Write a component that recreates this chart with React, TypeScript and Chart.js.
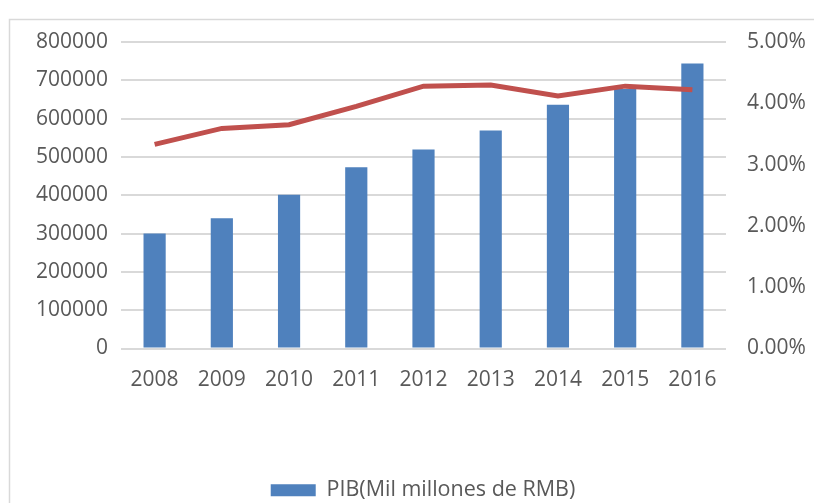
import React, { useEffect, useRef } from "react";
import { Chart, registerables } from "chart.js";

Chart.register(...registerables);

const years = ["2008", "2009", "2010", "2011", "2012", "2013", "2014", "2015", "2016"];
const pib = [300000, 340000, 401000, 473000, 519500, 569000, 636000, 677000, 744000];
const growth = [0.0333, 0.0359, 0.0365, 0.0395, 0.0428, 0.043, 0.0412, 0.0428, 0.0422];
const pibLabel = "PIB(Mil millones de RMB)";
const growthLabel = "Crecimiento";

const TEXT = "#595959";
const GRID = "#d9d9d9";
const FONT = "'Open Sans', 'Noto Sans', sans-serif";

const borderPlugin = {
  id: "frameBorder",
  beforeDraw(chart: any) {
    const ctx = chart.ctx;
    ctx.save();
    ctx.fillStyle = "#ffffff";
    ctx.fillRect(0, 0, chart.width, chart.height);
    ctx.strokeStyle = GRID;
    ctx.lineWidth = 1.5;
    ctx.strokeRect(9.5, 19.5, chart.width + 20, chart.height + 20);
    ctx.restore();
  },
  afterLayout(chart: any) {
    if (chart.legend) {
      chart.legend.left += 16;
      chart.legend.right += 16;
    }
  },
};

export default function App() {
  const ref = useRef<HTMLCanvasElement | null>(null);
  useEffect(() => {
    if (!ref.current) return;
    const chart = new Chart(ref.current, {
      type: "bar",
      data: {
        labels: years,
        datasets: [
          {
            type: "bar",
            label: pibLabel,
            data: pib,
            backgroundColor: "#4f81bd",
            yAxisID: "y",
            order: 1,
            barPercentage: 0.66,
            categoryPercentage: 0.5,
          },
          {
            type: "line",
            label: growthLabel,
            data: growth,
            borderColor: "#c0504d",
            backgroundColor: "#c0504d",
            borderWidth: 5,
            pointRadius: 0,
            tension: 0,
            yAxisID: "y1",
            order: 0,
          },
        ] as any,
      },
      options: {
        animation: false,
        responsive: false,
        layout: { padding: { top: 42, right: 0, left: 0, bottom: -8 } },
        plugins: {
          legend: {
            position: "bottom",
            labels: {
              filter: (item: any) => item.datasetIndex === 0,
              boxWidth: 45,
              boxHeight: 12,
              padding: 6,
              color: TEXT,
              font: { family: FONT, size: 21.5 },
            },
          },
          tooltip: { enabled: false },
        },
        scales: {
          x: {
            grid: { display: false, drawTicks: false },
            border: { display: false },
            ticks: { color: TEXT, font: { family: FONT, size: 21 }, padding: 19 },
            afterFit: (s: any) => {
              s.height = 125;
            },
          },
          y: {
            position: "left",
            min: 0,
            max: 800000,
            ticks: {
              stepSize: 100000,
              color: TEXT,
              font: { family: FONT, size: 21 },
              padding: 13,
              callback: (v: any) => String(v),
            },
            grid: { color: GRID, lineWidth: 2, drawTicks: false },
            border: { display: false },
            afterFit: (s: any) => {
              s.width = 121;
            },
          },
          y1: {
            position: "right",
            min: 0,
            max: 0.05,
            ticks: {
              stepSize: 0.01,
              color: TEXT,
              font: { family: FONT, size: 21 },
              padding: 21,
              callback: (v: any) => (Number(v) * 100).toFixed(2) + "%",
            },
            grid: { display: false, drawTicks: false },
            border: { display: false },
            afterFit: (s: any) => {
              s.width = 88;
            },
          },
        },
      },
      plugins: [borderPlugin],
    });
    return () => chart.destroy();
  }, []);
  return (
    <div style={{ position: "fixed", left: 0, top: 0, width: 814, height: 503, background: "#fff" }}>
      <canvas ref={ref} width={814} height={503} style={{ width: 814, height: 503 }} />
    </div>
  );
}
